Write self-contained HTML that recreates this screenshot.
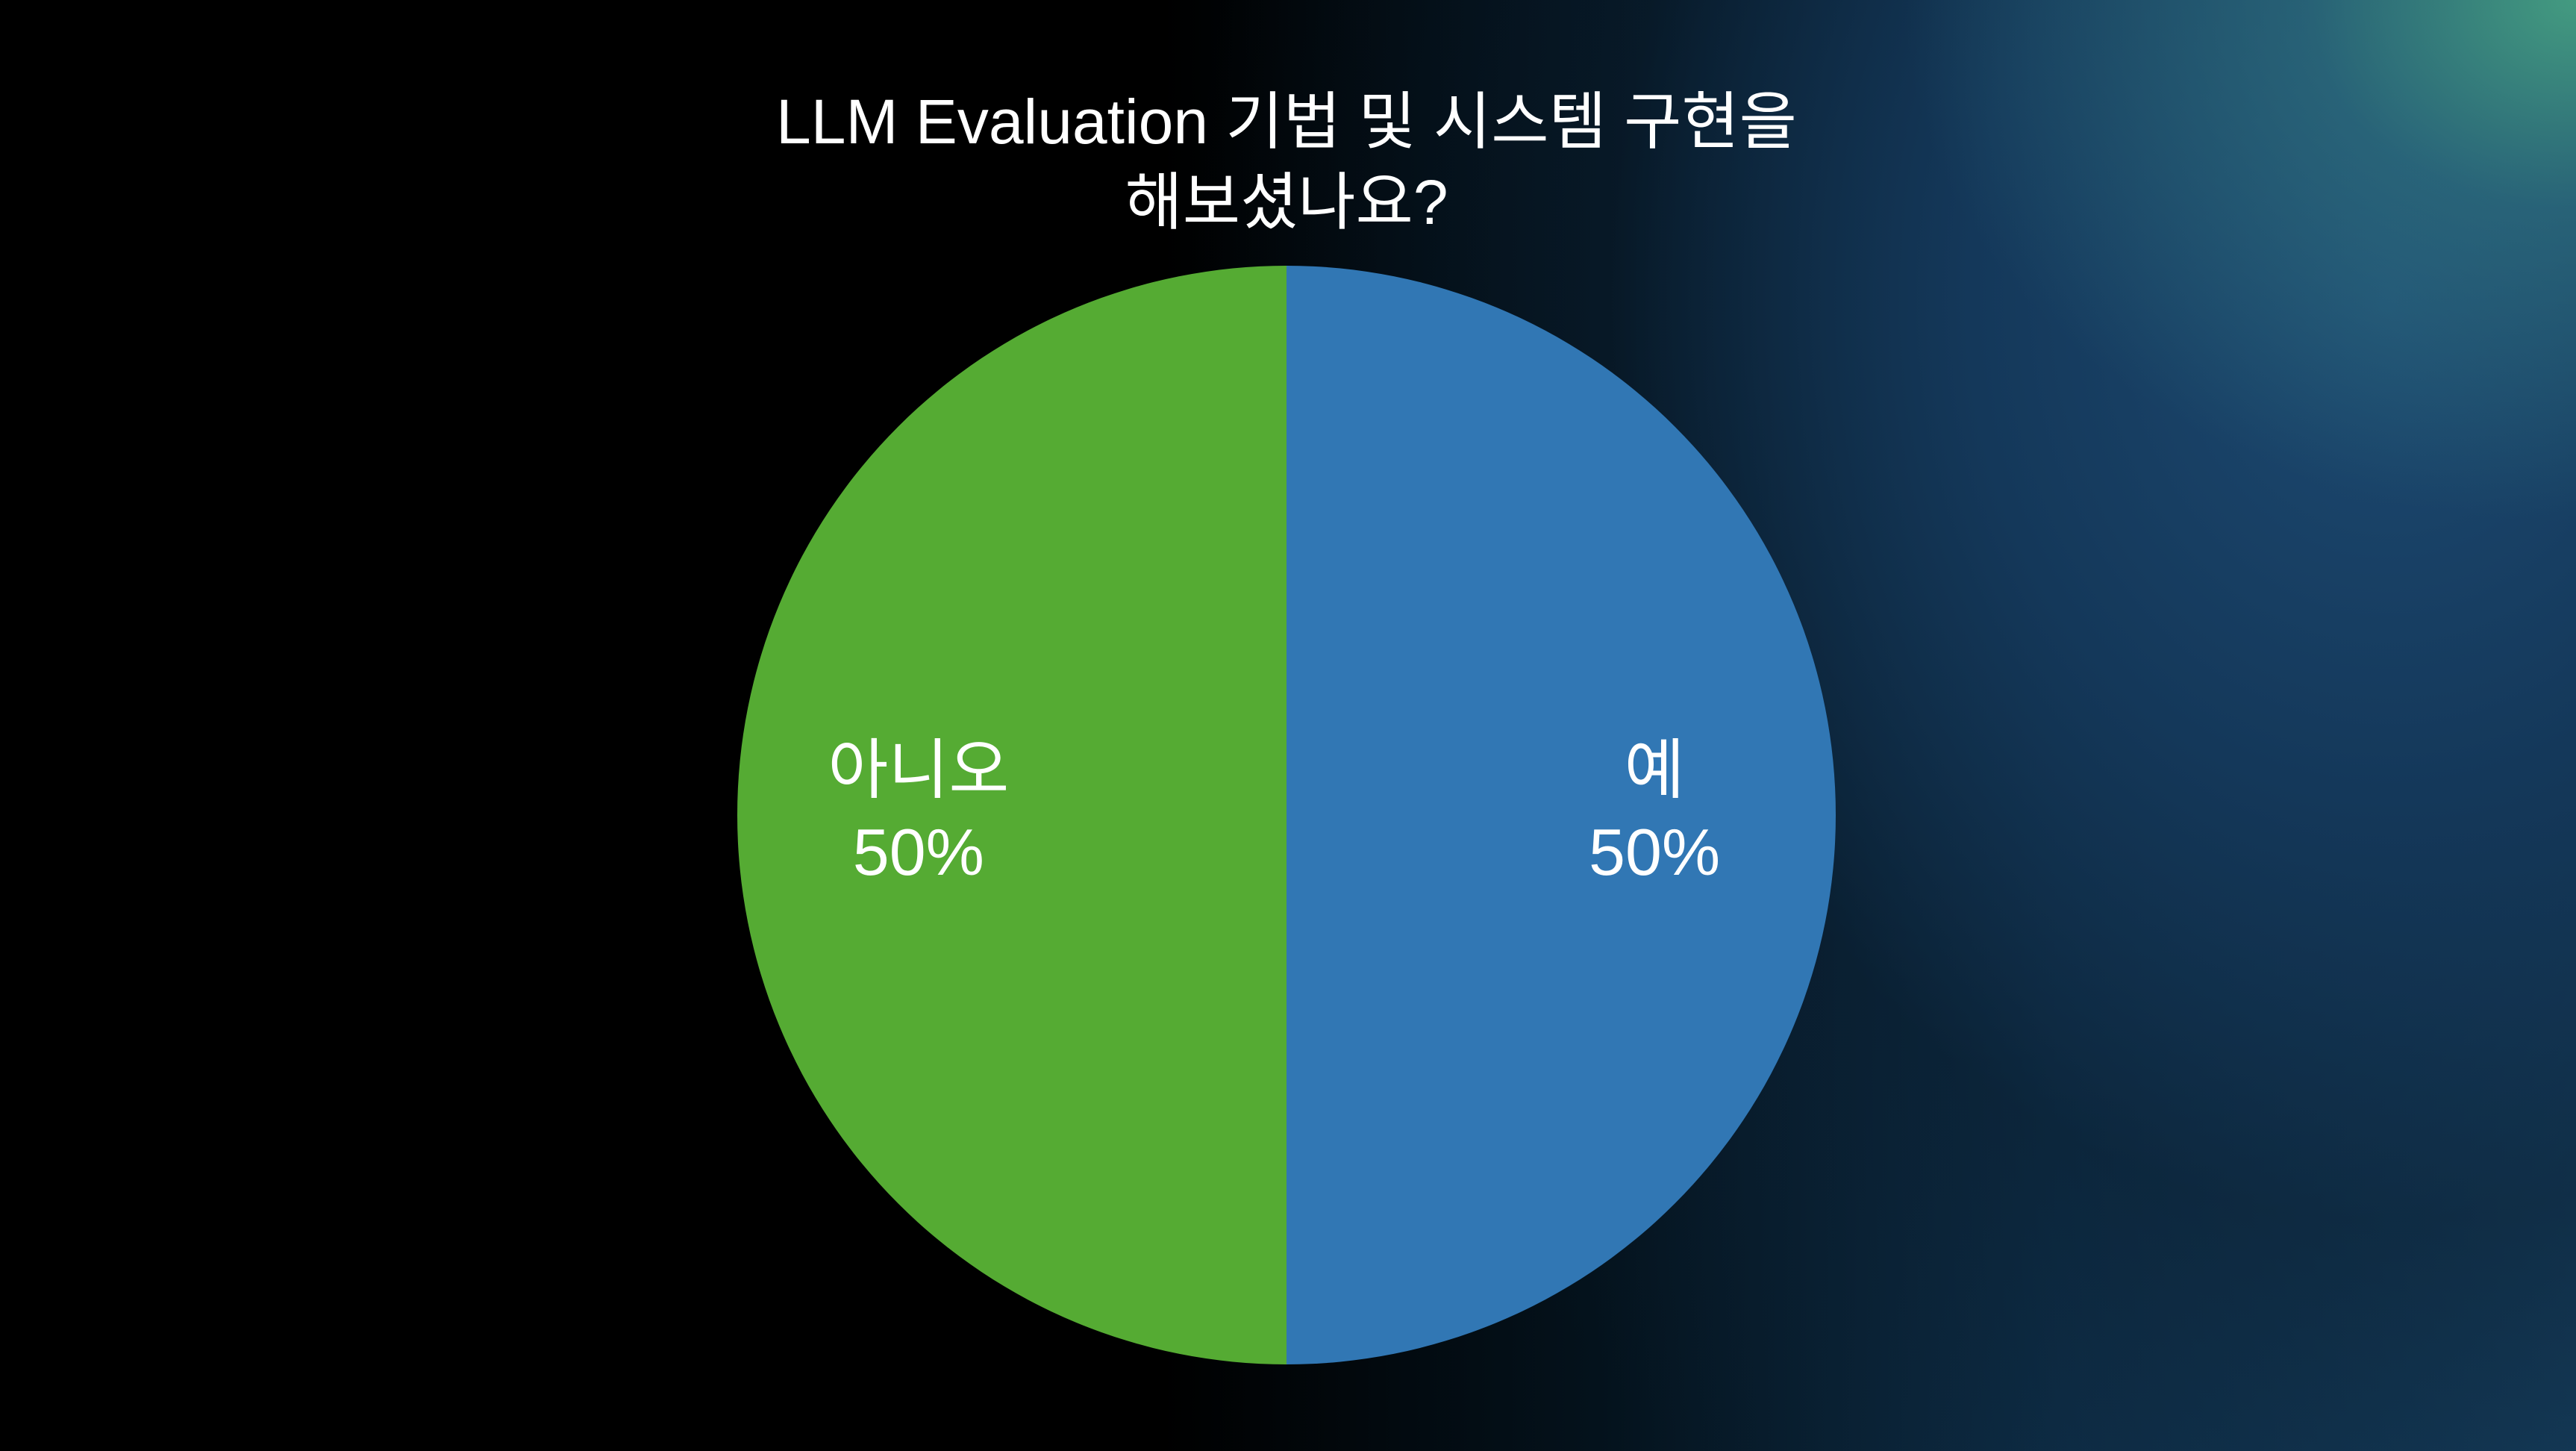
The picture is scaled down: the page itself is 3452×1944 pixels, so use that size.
<!DOCTYPE html>
<html><head><meta charset="utf-8"><style>
html,body{margin:0;padding:0}
body{width:3452px;height:1944px;overflow:hidden;position:relative;font-family:"Liberation Sans","Noto Sans CJK KR",sans-serif;
background:
radial-gradient(ellipse 900px 700px at 3452px 0px, rgba(70,160,130,0.95) 0%, rgba(50,120,130,0.6) 40%, rgba(30,80,120,0) 100%),
radial-gradient(ellipse 1600px 1900px at 3200px 400px, #1d4a72 0%, #14385a 35%, rgba(10,30,48,0.5) 65%, rgba(0,0,0,0) 100%),
linear-gradient(90deg,#000 0%,#000 45%,#04121c 62%,#0e2e48 80%,#163f5f 100%);}
svg{position:absolute;left:0;top:0}
</style></head><body>
<svg width="3452" height="1944" viewBox="0 0 3452 1944">
<text x="1724" y="192" fill="#fff" font-size="84" text-anchor="middle">LLM Evaluation 기법 및 시스템 구현을</text>
<text x="1724" y="300" fill="#fff" font-size="84" text-anchor="middle">해보셨나요?</text>
<g id="slices"></g>
<g id="labels"></g>
</svg>
<script>
const categories=["예","아니오"];
const values=[50,50];
const colors=["#3177b4","#55ab33"];
const cx=1724,cy=1092,r=736;
const total=values.reduce((a,b)=>a+b,0);
const gs=document.getElementById('slices'),gl=document.getElementById('labels');
const NS="http://www.w3.org/2000/svg";
let a0=-Math.PI/2;
values.forEach((v,i)=>{
 const a1=a0+v/total*2*Math.PI;
 const x0=cx+r*Math.cos(a0),y0=cy+r*Math.sin(a0),x1=cx+r*Math.cos(a1),y1=cy+r*Math.sin(a1);
 const large=(a1-a0)>Math.PI?1:0;
 const p=document.createElementNS(NS,'path');
 p.setAttribute('d',`M${cx},${cy} L${x0},${y0} A${r},${r} 0 ${large} 1 ${x1},${y1} Z`);
 p.setAttribute('fill',colors[i]);
 
 
 gs.appendChild(p);
 const am=(a0+a1)/2,lr=r*0.67;
 const lx=cx+lr*Math.cos(am),ly=cy+lr*Math.sin(am);
 const t=document.createElementNS(NS,'text');
 t.setAttribute('x',lx);t.setAttribute('y',ly-30);
 t.setAttribute('fill','#fff');t.setAttribute('font-size','88');t.setAttribute('text-anchor','middle');
 
 
 t.textContent=categories[i];
 gl.appendChild(t);
 const t2=document.createElementNS(NS,'text');
 t2.setAttribute('x',lx);t2.setAttribute('y',ly+80);
 t2.setAttribute('fill','#fff');t2.setAttribute('font-size','88');t2.setAttribute('text-anchor','middle');
 
 
 t2.textContent=Math.round(v/total*100)+'%';
 gl.appendChild(t2);
 a0=a1;
});
</script>
</body></html>
